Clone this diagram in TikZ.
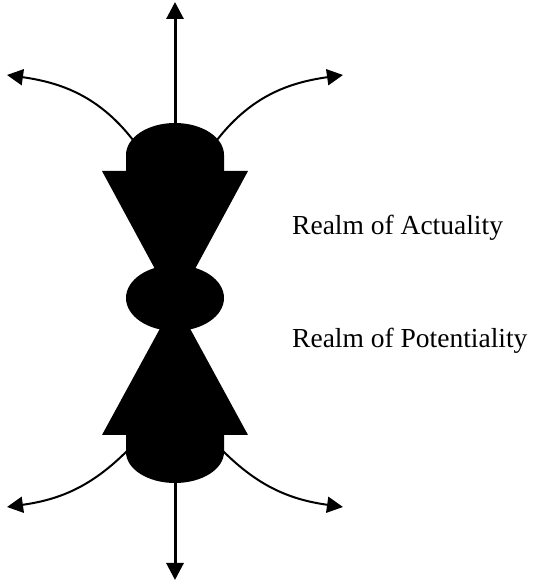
\documentclass[tikz,border=0pt]{standalone}
\usepackage{fontspec}
\setmainfont{Liberation Serif}
\usetikzlibrary{arrows.meta}
\begin{document}
\begin{tikzpicture}[x=1pt,y=1pt,
  blob/.style={fill=black,draw=none},
  axisarrow/.style={line width=3pt,{Triangle[length=17pt,width=17pt]}-{Triangle[length=17pt,width=17pt]}},
  curvearrow/.style={line width=2pt,-{Triangle[length=16pt,width=16pt]}},
  realm/.style={font=\fontsize{27.5}{32}\selectfont,anchor=base west,inner sep=0pt}]
\useasboundingbox (0,0) rectangle (535,584);
% shapes
\fill[blob] (102,413) -- (248,413) -- (175,278) -- cycle;
\fill[blob] (102,149) -- (248,149) -- (175,283) -- cycle;
\fill[blob] (126,413) -- (126,429) arc[start angle=180,end angle=0,x radius=49,y radius=32] -- (224,413) -- cycle;
\fill[blob] (126,149) -- (126,132) arc[start angle=180,end angle=360,x radius=49,y radius=31] -- (224,149) -- cycle;
\fill[blob] (175,286) ellipse[x radius=49,y radius=33];
% coordinates
\coordinate (top) at (175,582);
\coordinate (bot) at (175,4);
\coordinate (tls) at (133,444);
\coordinate (trs) at (217,444);
\coordinate (bls) at (127,133);
\coordinate (brs) at (223,133);
\coordinate (tle) at (7,509);
\coordinate (tre) at (343,509);
\coordinate (ble) at (7,77);
\coordinate (bre) at (343,77);
% connectors
\draw[axisarrow] (bot) -- (top);
\draw[curvearrow] (tls) to[out=128,in=-8] (tle);
\draw[curvearrow] (trs) to[out=52,in=188] (tre);
\draw[curvearrow] (bls) to[out=225,in=8] (ble);
\draw[curvearrow] (brs) to[out=-45,in=172] (bre);
% labels
\node[realm] (act) at (292,349) {Realm of Actuality};
\node[realm] (pot) at (292,236) {Realm of Potentiality};
\end{tikzpicture}
\end{document}
